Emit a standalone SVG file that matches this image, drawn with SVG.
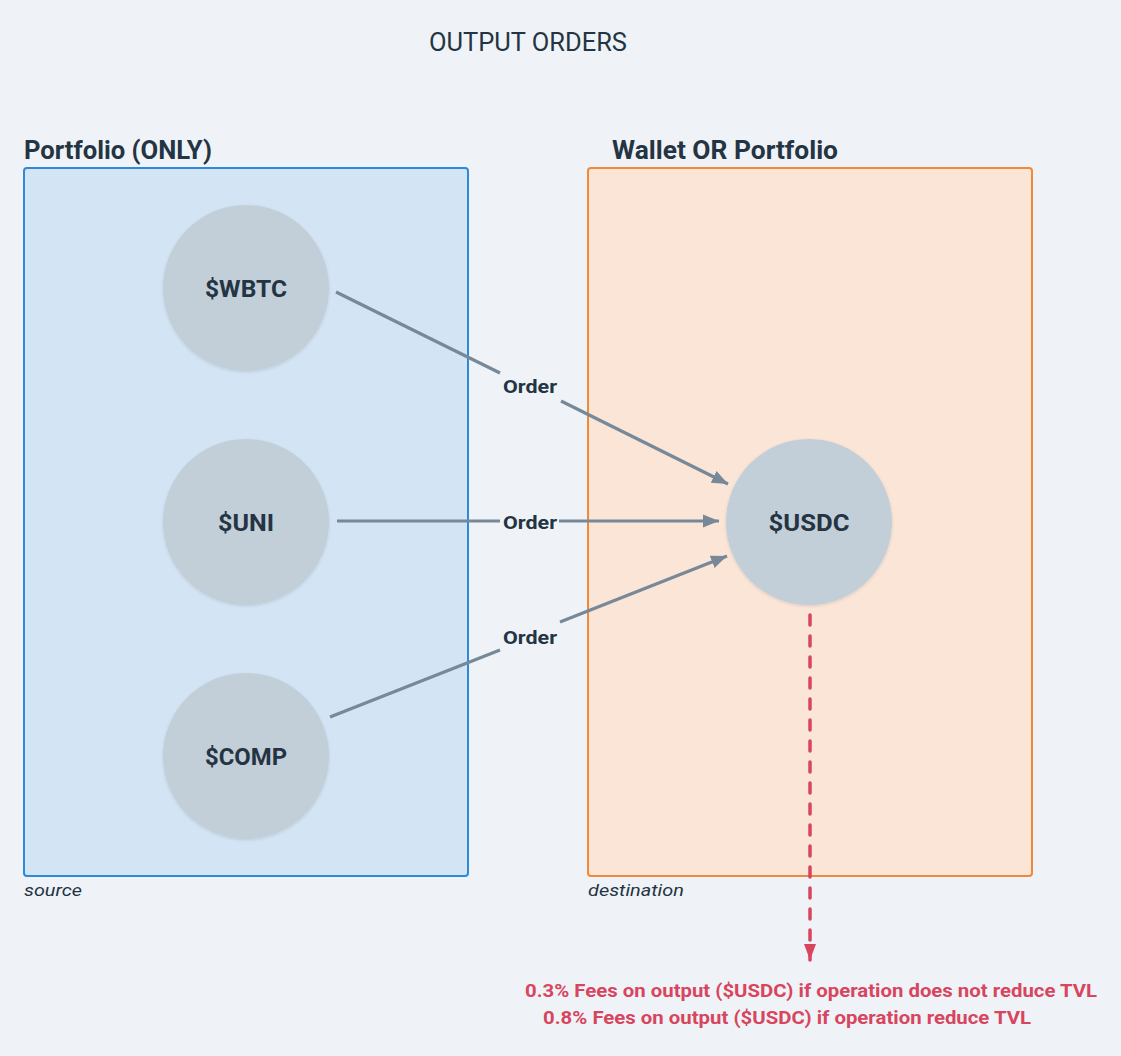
<svg xmlns="http://www.w3.org/2000/svg" width="1121" height="1056" viewBox="0 0 1121 1056">
<defs>
<style>
.t{font-family:Roboto,"Liberation Sans",sans-serif;fill:#243443}
.b{font-weight:bold}
.lbl{font-family:Roboto,"Liberation Sans",sans-serif;font-weight:bold;font-size:24px;fill:#243443;text-anchor:middle}
.ord{font-family:Roboto,"Liberation Sans",sans-serif;font-weight:bold;font-size:19px;fill:#243443;text-anchor:middle}
.note{font-family:Roboto,"Liberation Sans",sans-serif;font-weight:bold;font-size:18.5px;fill:#d8455e}
.node{fill:#c2cfd9;filter:url(#sh)}
.conn{stroke:#778898;stroke-width:3.2;fill:none}
</style>
<filter id="sh" x="-20%" y="-20%" width="140%" height="140%">
<feDropShadow dx="0" dy="1" stdDeviation="1.5" flood-color="#000" flood-opacity="0.12"/>
</filter>
<marker id="ah" markerUnits="userSpaceOnUse" markerWidth="18" markerHeight="16" viewBox="0 0 18 16" refX="16" refY="8" orient="auto">
<path d="M0,1.5 L16,8 L0,14.5 Z" fill="#778898"/>
</marker>
<marker id="ahr" markerUnits="userSpaceOnUse" markerWidth="18" markerHeight="16" viewBox="0 0 18 16" refX="16" refY="8" orient="auto">
<path d="M0,2 L16,8 L0,14 Z" fill="#d8455e"/>
</marker>
</defs>
<rect width="1121" height="1056" fill="#eff3f7"/>
<text class="t" x="528" y="51" font-size="25" text-anchor="middle" textLength="198" lengthAdjust="spacingAndGlyphs">OUTPUT ORDERS</text>

<g id="source">
<rect x="24" y="168" width="444" height="708" rx="3" fill="#d3e5f5" stroke="#2e8ad8" stroke-width="2"/>
<text class="t b" x="24" y="159" font-size="25" textLength="188" lengthAdjust="spacingAndGlyphs">Portfolio (ONLY)</text>
<text class="t" x="24" y="896" font-size="17" font-style="italic" textLength="58" lengthAdjust="spacingAndGlyphs">source</text>
</g>
<g id="destination">
<rect x="588" y="168" width="444" height="708" rx="3" fill="#fae5d7" stroke="#ee8a3a" stroke-width="2"/>
<text class="t b" x="612" y="159" font-size="25" textLength="226" lengthAdjust="spacingAndGlyphs">Wallet OR Portfolio</text>
<text class="t" x="588" y="896" font-size="17" font-style="italic" textLength="96" lengthAdjust="spacingAndGlyphs">destination</text>
</g>

<g id="wbtc"><circle class="node" cx="246" cy="288" r="83"/><text class="lbl" x="246" y="297" textLength="82" lengthAdjust="spacingAndGlyphs">$WBTC</text></g>
<g id="uni"><circle class="node" cx="246" cy="522" r="83"/><text class="lbl" x="246" y="531" textLength="56" lengthAdjust="spacingAndGlyphs">$UNI</text></g>
<g id="comp"><circle class="node" cx="246" cy="756" r="83"/><text class="lbl" x="246" y="765" textLength="82" lengthAdjust="spacingAndGlyphs">$COMP</text></g>
<g id="usdc"><circle class="node" cx="809" cy="522" r="83"/><text class="lbl" x="809" y="531" textLength="81" lengthAdjust="spacingAndGlyphs">$USDC</text></g>

<g id="connectors">
<line class="conn" x1="336" y1="292" x2="500" y2="373"/>
<line class="conn" x1="561" y1="401" x2="728" y2="484" marker-end="url(#ah)"/>
<text class="ord" x="530" y="393" textLength="54" lengthAdjust="spacingAndGlyphs">Order</text>
<line class="conn" x1="337" y1="521" x2="500" y2="521"/>
<line class="conn" x1="559" y1="521" x2="719" y2="521" marker-end="url(#ah)"/>
<text class="ord" x="530" y="529" textLength="54" lengthAdjust="spacingAndGlyphs">Order</text>
<line class="conn" x1="330" y1="717" x2="500" y2="650"/>
<line class="conn" x1="560" y1="622" x2="727" y2="556" marker-end="url(#ah)"/>
<text class="ord" x="530" y="644" textLength="54" lengthAdjust="spacingAndGlyphs">Order</text>
<line x1="810" y1="615" x2="810" y2="960" stroke="#d8455e" stroke-width="3.5" stroke-dasharray="10 11" stroke-linecap="round" marker-end="url(#ahr)"/>
</g>

<g id="notes">
<text class="note" x="811" y="997" text-anchor="middle" textLength="572" lengthAdjust="spacingAndGlyphs">0.3% Fees on output ($USDC) if operation does not reduce TVL</text>
<text class="note" x="787" y="1024" text-anchor="middle" textLength="488" lengthAdjust="spacingAndGlyphs">0.8% Fees on output ($USDC) if operation reduce TVL</text>
</g>
</svg>
